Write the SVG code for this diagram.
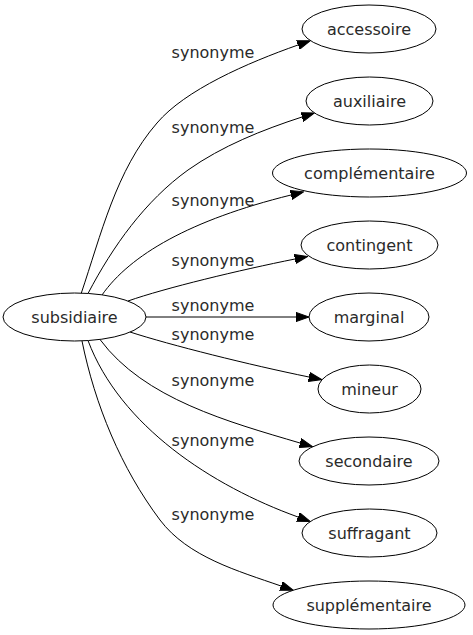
<svg xmlns="http://www.w3.org/2000/svg" width="473" height="635" viewBox="0 0 473 635">
<style>
.node ellipse{fill:#fff;stroke:#000;stroke-width:1}
text{font-family:"DejaVu Sans",Verdana,sans-serif;font-size:16px;fill:#2a2a2a}
.node text{text-anchor:middle}
.edges path{fill:none;stroke:#000;stroke-width:1;marker-end:url(#ah)}
.edges text{text-anchor:middle}
</style>
<defs>
<marker id="ah" viewBox="0 -5 13 10" refX="0" refY="0" markerWidth="13" markerHeight="10" markerUnits="userSpaceOnUse" orient="auto">
<path d="M0,-4.6L13,0L0,4.6z" fill="#000" stroke="#000" stroke-width="1"/>
</marker>
</defs>
<rect width="473" height="635" fill="#fff"/>
<g class="edges">
<path d="M81,294 C101,235 116,170 157,123 C185,90 247,63 298,45"/>
<path d="M88,293.5 C113,246 145,201 188,170 C222,146 262,130 302,117"/>
<path d="M102,295 C130,255 190,220 291,195"/>
<path d="M128,301 C165,288 240,270 295,259"/>
<path d="M146,317 L296,317"/>
<path d="M130,332 C170,345 250,365 309,377"/>
<path d="M100,339.5 C144,399 229,422 300,443"/>
<path d="M88,340.5 C120,426 212,486 298,517"/>
<path d="M82,341 C95,405 121,468 160,520 C188,557 238,571 281,586"/>
<text x="213" y="58">synonyme</text>
<text x="213" y="133">synonyme</text>
<text x="213" y="206">synonyme</text>
<text x="213" y="266">synonyme</text>
<text x="213" y="311">synonyme</text>
<text x="213" y="340">synonyme</text>
<text x="213" y="386">synonyme</text>
<text x="213" y="446">synonyme</text>
<text x="213" y="520">synonyme</text>
</g>
<g id="subsidiaire" class="node"><ellipse cx="74.5" cy="317" rx="71.5" ry="24"/><text x="74.5" y="322.5">subsidiaire</text></g>
<g id="accessoire" class="node"><ellipse cx="369" cy="29" rx="67" ry="24"/><text x="369" y="34.5">accessoire</text></g>
<g id="auxiliaire" class="node"><ellipse cx="369.5" cy="101" rx="63.5" ry="24"/><text x="369.5" y="106.5">auxiliaire</text></g>
<g id="complementaire" class="node"><ellipse cx="369.5" cy="173" rx="97" ry="24"/><text x="369.5" y="178.5">complémentaire</text></g>
<g id="contingent" class="node"><ellipse cx="369.5" cy="245" rx="68.5" ry="24"/><text x="369.5" y="250.5">contingent</text></g>
<g id="marginal" class="node"><ellipse cx="369" cy="317" rx="60" ry="24"/><text x="369" y="322.5">marginal</text></g>
<g id="mineur" class="node"><ellipse cx="369.5" cy="389" rx="51.5" ry="24"/><text x="369.5" y="394.5">mineur</text></g>
<g id="secondaire" class="node"><ellipse cx="369" cy="461" rx="70" ry="24"/><text x="369" y="466.5">secondaire</text></g>
<g id="suffragant" class="node"><ellipse cx="369.5" cy="533" rx="67.5" ry="24"/><text x="369.5" y="538.5">suffragant</text></g>
<g id="supplementaire" class="node"><ellipse cx="369" cy="605" rx="96" ry="24"/><text x="369" y="610.5">supplémentaire</text></g>
</svg>
